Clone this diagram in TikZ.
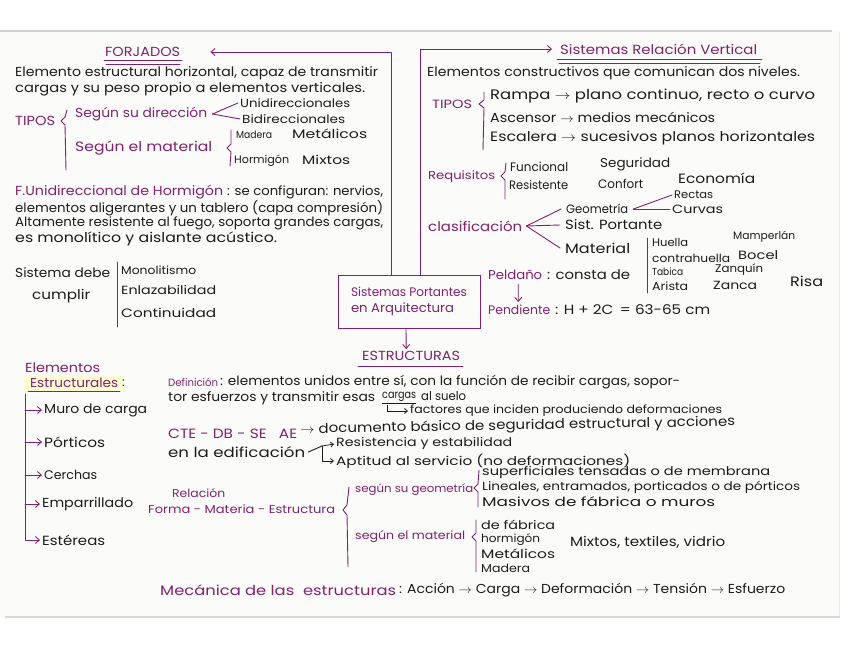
\documentclass[tikz,border=0pt]{standalone}
\usepackage{graphicx}
\usepackage{fontspec}
\setmainfont{Poppins}
\usetikzlibrary{arrows.meta}
\definecolor{ink}{RGB}{130,34,110}
\definecolor{pen}{RGB}{28,28,28}
\definecolor{paper}{RGB}{251,251,249}
\newcommand\hw{\fontsize{12.5}{15}\selectfont}
\newcommand\hs{\fontsize{10.8}{13}\selectfont}
\newsavebox\wbox
\newcommand\W[2]{\sbox\wbox{#2}\pgfmathsetmacro\wr{#1pt/\wd\wbox}\pgfmathsetmacro\wv{pow(\wr,0.35)}\scalebox{\wr}[\wv]{\usebox\wbox}}
\tikzset{
  every node/.style={inner sep=0pt, anchor=west, font=\hw},
  pur/.style={text=ink},
  blk/.style={text=pen},
  sm/.style={font=\hs},
  ln/.style={draw=ink, line width=0.9pt, line cap=round, line join=round},
  arr/.style={ln, -{Straight Barb[length=4pt,width=7pt]}},
  blarr/.style={draw=pen, line width=0.8pt, -{Straight Barb[length=3pt,width=5pt]}},
}
\begin{document}
\begin{tikzpicture}[x=1pt,y=-1pt]
\useasboundingbox (0,0) rectangle (848,655);
\fill[white] (0,0) rectangle (848,655);
\fill[paper] (0,30) rectangle (839,617);
\draw[gray!35, line width=1.5pt] (0,31) -- (832,31);
\draw[gray!30, line width=1.5pt] (5,617) -- (840,617);
\draw[gray!15, line width=1pt] (839,32) -- (839,616);

% ---------- FORJADOS ----------
\node[pur] (forj) at (105,52) {\W{75}{FORJADOS}};
\draw[ln] (104,60) -- (182,60);
\draw[ln] (106,64) -- (180,64);
\node[blk] (e1) at (15,73) {\W{363}{Elemento estructural horizontal, capaz de transmitir}};
\node[blk] (e2) at (15,89) {\W{350}{cargas y su peso propio a elementos verticales.}};
\node[pur] (tip1) at (15,121) {\W{40}{TIPOS}};
\draw[ln] (67,110) -- (65,117) -- (61,121) -- (65,125) -- (66,170);
\node[pur] (sdir) at (75,114) {\W{132}{Según su dirección}};
\node[blk,sm] (uni) at (240,103) {\W{110}{Unidireccionales}};
\node[blk,sm] (bid) at (242,119) {\W{103}{Bidireccionales}};
\draw[ln] ([xshift=5pt]sdir.east) -- ([xshift=-2pt]uni.west);
\draw[ln] ([xshift=5pt]sdir.east) -- ([xshift=-2pt]bid.west);
\node[pur] (smat) at (75,148) {\W{137}{Según el material}};
\draw[ln] (231,130) -- (231,144) -- (227,148) -- (231,152) -- (230,166);
\node[blk,sm] (mad) at (236,135) {\W{36}{Madera}};
\node[blk,sm] (met) at (292,134) {\W{75}{Metálicos}};
\node[blk,sm] (hor) at (234,161) {\W{55}{Hormigón}};
\node[blk,sm] (mix) at (302,160) {\W{48}{Mixtos}};

\node[pur] (fu) at (15,192) {\W{208}{F.Unidireccional de Hormigón}};
\node[blk] (fu2) at (227,192) {\W{156}{: se configuran: nervios,}};
\node[blk] (f2) at (15,208) {\W{368}{elementos aligerantes y un tablero (capa compresión)}};
\node[blk] (f3) at (15,223) {\W{368}{Altamente resistente al fuego, soporta grandes cargas,}};
\node[blk] (f4) at (15,239) {\W{262}{es monolítico y aislante acústico.}};

\node[blk] (sd1) at (15,273) {\W{95}{Sistema debe}};
\node[blk] (sd2) at (32,296) {\W{58}{cumplir}};
\draw[ln] (117,262) -- (117,327);
\node[blk,sm] (mono) at (121,270) {\W{75}{Monolitismo}};
\node[blk,sm] (enl) at (121,290) {\W{95}{Enlazabilidad}};
\node[blk,sm] (cont) at (121,313) {\W{95}{Continuidad}};

% ---------- centre ----------
\node[pur, draw=ink, line width=0.9pt, anchor=center, align=left,
      minimum width=142pt, minimum height=53pt] (spa) at (409,301.5)
      {\W{116}{Sistemas Portantes}\\[1pt]\W{103}{en Arquitectura}};
\coordinate (cl) at (391,50);
\coordinate (cr) at (420,52);
\draw[arr] (spa.north -| cl) |- ([xshift=30pt]forj.east);
\node[pur] (srv) at (560,49) {\W{197}{Sistemas Relación Vertical}};
\draw[arr] (spa.north -| cr) |- ([xshift=-8pt]srv.west);
\draw[ln] (557,59) -- (762,59);
\draw[ln] (559,63) -- (760,63);

\node[pur] (estr) at (362,356) {\W{98}{ESTRUCTURAS}};
\draw[ln] (358,366) -- (463,366);
\draw[arr] ([xshift=-3pt]spa.south) -- ([xshift=-5pt,yshift=2pt]estr.north);

% ---------- right ----------
\node[blk] (r1) at (427,73) {\W{373}{Elementos constructivos que comunican dos niveles.}};
\node[pur,sm] (tip2) at (432,104) {\W{40}{TIPOS}};
\draw[ln] (484,92) -- (484,100) -- (479,104) -- (484,108) -- (483,150);
\node[blk] (ram) at (490,96) {\W{325}{Rampa $\to$ plano continuo, recto o curvo}};
\node[blk] (asc) at (490,117) {\W{225}{Ascensor $\to$ medios mecánicos}};
\node[blk] (esc) at (490,138) {\W{325}{Escalera $\to$ sucesivos planos horizontales}};

\node[pur,sm] (req) at (428,177) {\W{67}{Requisitos}};
\draw[ln] (506,163) -- (505,172) -- (501,176) -- (505,180) -- (505,199);
\node[blk] (fun) at (510,167) {\W{58}{Funcional}};
\node[blk] (seg) at (600,164) {\W{70}{Seguridad}};
\node[blk] (res) at (509,185) {\W{59}{Resistente}};
\node[blk] (conf) at (598,184) {\W{45}{Confort}};
\node[blk] (eco) at (678,178) {\W{77}{Economía}};

\node[pur] (cla) at (428,226) {\W{94}{clasificación}};
\node[blk] (geo) at (566,209) {\W{62}{Geometría}};
\node[blk,sm] (rec) at (674,195) {\W{39}{Rectas}};
\node[blk,sm] (cur) at (672,209) {\W{51}{Curvas}};
\draw[ln] ([xshift=5pt]geo.east) -- ([xshift=-2pt]rec.west);
\draw[ln] ([xshift=5pt]geo.east) -- ([xshift=-2pt]cur.west);
\node[blk] (sis) at (565,225) {\W{97}{Sist. Portante}};
\node[blk] (mat) at (565,248) {\W{65}{Material}};
\draw[ln] ([xshift=4pt]cla.east) -- ([xshift=-5pt]geo.west);
\draw[ln] ([xshift=4pt]cla.east) -- ([xshift=-5pt]sis.west);
\draw[ln] ([xshift=4pt]cla.east) -- ([xshift=-5pt]mat.west);
\draw[ln] (647,238) -- (647,293);
\node[blk,sm] (hue) at (652,242) {\W{36}{Huella}};
\node[blk,sm] (mam) at (733,237) {\W{62}{Mamperlán}};
\node[blk,sm] (ctr) at (652,258) {\W{78}{contrahuella}};
\node[blk,sm] (boc) at (738,255) {\W{40}{Bocel}};
\node[blk,sm] (tab) at (652,272) {\W{31}{Tabica}};
\node[blk,sm] (zaq) at (715,270) {\W{48}{Zanquín}};
\node[blk,sm] (ari) at (652,286) {\W{36}{Arista}};
\node[blk,sm] (zan) at (713,285) {\W{44}{Zanca}};
\node[blk] (ris) at (790,281) {\W{33}{Risa}};

\node[pur] (pel) at (488,275) {\W{54}{Peldaño}};
\node[blk] (pel2) at (547,275) {\W{83}{: consta de}};
\node[pur] (pen) at (488,310) {\W{62}{Pendiente}};
\node[blk] (pen2) at (555,310) {\W{155}{: H + 2C \,= 63-65 cm}};
\draw[arr] ([xshift=3pt,yshift=-4pt]pel.south) -- ([xshift=-1pt,yshift=3pt]pen.north);

% ---------- bottom left ----------
\fill[yellow!18] (24,375) rectangle (124,392);
\node[pur] (el1) at (25,368) {\W{75}{Elementos}};
\node[pur] (el2) at (30,383) {\W{88}{Estructurales}};
\node[blk] (elc) at (122,383) {:};
\draw[ln] (28,391) -- (120,391);
\coordinate (eltop) at (25,394);
\node[blk] (muro) at (44,410) {\W{103}{Muro de carga}};
\node[blk] (por) at (44,442) {\W{61}{Pórticos}};
\node[blk] (cer) at (44,475) {\W{53}{Cerchas}};
\node[blk] (emp) at (42,504) {\W{91}{Emparrillado}};
\node[blk] (este) at (42,540) {\W{63}{Estéreas}};
\draw[arr] (eltop) |- ([xshift=-2pt]este.west);
\foreach \n in {muro,por,cer,emp}
  \draw[arr] (\n.west -| eltop) -- ([xshift=-2pt]\n.west);

% ---------- middle ----------
\node[pur,sm] (def) at (168,382) {\W{50}{Definición}};
\node[blk] (def2) at (220,382) {\W{460}{: elementos unidos entre sí, con la función de recibir cargas, sopor-}};
\node[blk] (d2a) at (168,398) {\W{207}{tor esfuerzos y transmitir esas}};
\node[blk] (carg) at (382,397) {\W{34}{cargas}};
\draw[draw=pen, line width=0.7pt] (382,403) -- (416,403);
\node[blk] (d2c) at (421,396) {\W{45}{al suelo}};
\node[blk,sm] (fac) at (410,411) {\W{312}{factores que inciden produciendo deformaciones}};
\draw[blarr] ([xshift=-12pt,yshift=-3pt]carg.south) |- ([xshift=-2pt]fac.west);

\node[pur] (cte) at (168,434) {\W{129}{CTE - DB - SE \ \ AE}};
\node[blk, rotate=1] (cte2) at (300,430) {\W{435}{$\to$ documento básico de seguridad estructural y acciones}};
\node[blk] (edi) at (168,452) {\W{137}{en la edificación}};
\node[blk,sm] (resi) at (336,444) {\W{176}{Resistencia y estabilidad}};
\node[blk,sm] (apt) at (336,461) {\W{294}{Aptitud al servicio (no deformaciones)}};
\coordinate (tj) at (322,446);
\draw[ln, draw=pen] ([xshift=3pt]edi.east) -- (tj);
\draw[blarr] (tj) -- ([xshift=-2pt]resi.west);
\draw[blarr] (tj) |- ([xshift=-2pt]apt.west);

\node[pur,sm] (rel1) at (172,493) {\W{53}{Relación}};
\node[pur,sm] (rel2) at (148,509) {\W{187}{Forma - Materia - Estructura}};
\draw[ln] (349,487) -- (347,505) -- (343,510) -- (347,515) -- (348,567);

\node[pur,sm] (sgeo) at (355,490) {\W{118}{según su geometría}};
\draw[ln] (479,470) -- (478,484) -- (474,488) -- (478,492) -- (478,507);
\node[blk,sm] (sup) at (482,472) {\W{288}{superficiales tensadas o de membrana}};
\node[blk,sm] (lin) at (482,487) {\W{318}{Lineales, entramados, porticados o de pórticos}};
\node[blk,sm] (mas) at (482,502) {\W{233}{Masivos de fábrica o muros}};
\node[pur,sm] (smat2) at (355,537) {\W{110}{según el material}};
\draw[ln] (476,520) -- (476,533) -- (472,537) -- (476,541) -- (476,572);
\node[blk,sm] (fab) at (481,525) {\W{74}{de fábrica}};
\node[blk,sm] (hrm) at (481,540) {\W{59}{hormigón}};
\node[blk,sm] (mtl) at (481,554) {\W{74}{Metálicos}};
\node[blk,sm] (mdr) at (481,568) {\W{49}{Madera}};
\node[blk] (mix2) at (570,542) {\W{155}{Mixtos, textiles, vidrio}};

\node[pur] (mec) at (160,590) {\W{236}{Mecánica de las \ estructuras}};
\node[blk] (mec2) at (399,590) {\W{386}{: Acción $\to$ Carga $\to$ Deformación $\to$ Tensión $\to$ Esfuerzo}};
\end{tikzpicture}
\end{document}
